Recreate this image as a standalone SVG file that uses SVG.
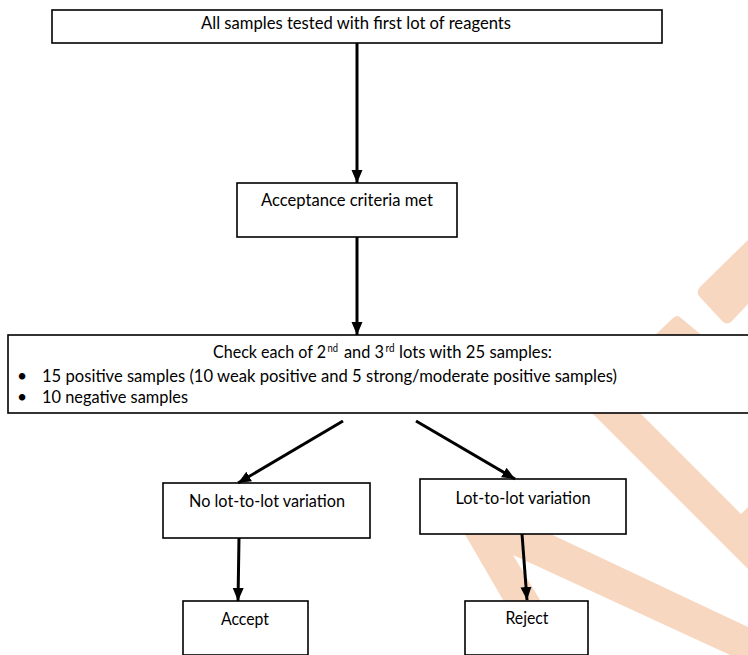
<svg xmlns="http://www.w3.org/2000/svg" width="748" height="655" viewBox="0 0 748 655">
<style>
.box{fill:#fff;stroke:#000;stroke-width:1.6}
.t{font-family:Lato,"Liberation Sans",sans-serif;font-size:17.5px;fill:#000}
.sup{font-size:11px}
.c{stroke:#000;stroke-width:3;fill:none}
.wm{fill:#F8D7C0;stroke:none}
</style>
<defs>
<marker id="ah" markerUnits="userSpaceOnUse" markerWidth="14" markerHeight="14" viewBox="0 0 14 14" refX="13" refY="7" orient="auto">
<path d="M0,1.5 L13,7 L0,12.5 Z" fill="#000"/>
</marker>
</defs>
<g id="watermark">
<path class="wm" d="M748,240 L700,287 Q696,292 699,296 L722,321 Q727,326 732,321 L748,304 Z"/>
<path class="wm" d="M652,338 L673,318 Q677,314 681,318 L705,338 Z"/>
<polygon class="wm" points="560,381 748,569 748,507 741,514 608,381"/>
<polygon class="wm" points="445,500 535,655 573,655 513,555 730,655 748,655 748,627 540,529"/>
</g>
<g id="n1">
<rect class="box" x="52" y="10" width="610" height="33"/>
<text class="t" x="356" y="29" text-anchor="middle" textLength="310" lengthAdjust="spacingAndGlyphs">All samples tested with first lot of reagents</text>
</g>
<g id="n2">
<rect class="box" x="237" y="183" width="220" height="54"/>
<text class="t" x="347" y="206" text-anchor="middle" textLength="172" lengthAdjust="spacingAndGlyphs">Acceptance criteria met</text>
</g>
<g id="n3">
<rect class="box" x="8" y="335" width="750" height="78"/>
<text class="t" x="213" y="358" font-size="16.3" textLength="113" lengthAdjust="spacingAndGlyphs">Check each of 2</text>
<text class="t sup" x="327.5" y="352" textLength="10.5" lengthAdjust="spacingAndGlyphs">nd</text>
<text class="t" x="344" y="358" textLength="40" lengthAdjust="spacingAndGlyphs">and 3</text>
<text class="t sup" x="385.5" y="352" textLength="9" lengthAdjust="spacingAndGlyphs">rd</text>
<text class="t" x="399" y="358" textLength="153" lengthAdjust="spacingAndGlyphs">lots with 25 samples:</text>
<text class="t" x="17" y="382" font-size="15">•</text>
<text class="t" x="42" y="382" textLength="575" lengthAdjust="spacingAndGlyphs">15 positive samples (10 weak positive and 5 strong/moderate positive samples)</text>
<text class="t" x="17" y="403" font-size="15">•</text>
<text class="t" x="42" y="403" textLength="146" lengthAdjust="spacingAndGlyphs">10 negative samples</text>
</g>
<g id="n4">
<rect class="box" x="163" y="483" width="207" height="55"/>
<text class="t" x="267" y="507" text-anchor="middle" textLength="156" lengthAdjust="spacingAndGlyphs">No lot-to-lot variation</text>
</g>
<g id="n5">
<rect class="box" x="420" y="479" width="206" height="55"/>
<text class="t" x="523" y="504" text-anchor="middle" textLength="135" lengthAdjust="spacingAndGlyphs">Lot-to-lot variation</text>
</g>
<g id="n6">
<rect class="box" x="183" y="601" width="125" height="54"/>
<text class="t" x="245" y="625" text-anchor="middle" textLength="48" lengthAdjust="spacingAndGlyphs">Accept</text>
</g>
<g id="n7">
<rect class="box" x="465" y="601" width="123" height="54"/>
<text class="t" x="527" y="624" text-anchor="middle" textLength="43" lengthAdjust="spacingAndGlyphs">Reject</text>
</g>
<g id="connectors">
<line class="c" x1="357" y1="43" x2="357" y2="183" marker-end="url(#ah)"/>
<line class="c" x1="357" y1="237" x2="357" y2="335" marker-end="url(#ah)"/>
<line class="c" x1="343" y1="421" x2="238" y2="483" marker-end="url(#ah)"/>
<line class="c" x1="416" y1="421" x2="515" y2="479" marker-end="url(#ah)"/>
<line class="c" x1="239" y1="538" x2="238" y2="601" marker-end="url(#ah)"/>
<line class="c" x1="522" y1="534" x2="527" y2="600" marker-end="url(#ah)"/>
</g>
</svg>
